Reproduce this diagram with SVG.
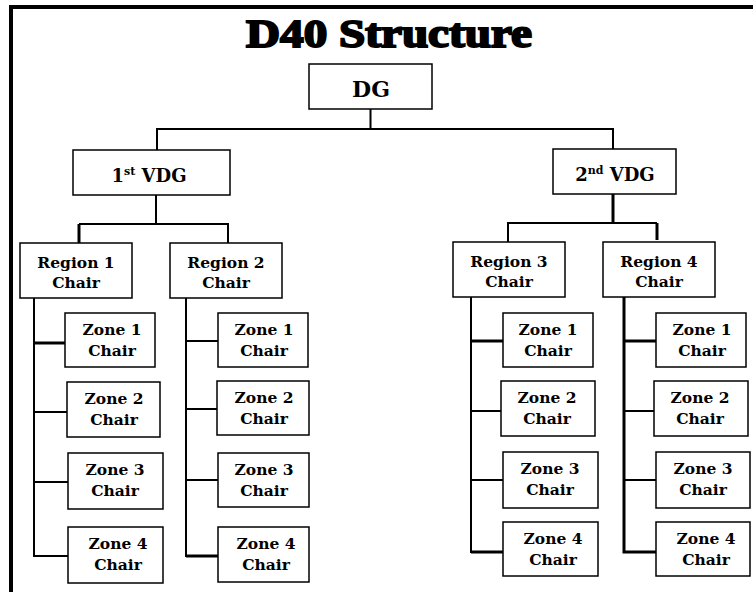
<svg xmlns="http://www.w3.org/2000/svg" width="753" height="592" viewBox="0 0 753 592">
<style>
.box{fill:#fff;stroke:#000;stroke-width:1.5}
.t{font-family:"DejaVu Serif","Liberation Serif",serif;font-weight:bold;fill:#000;text-anchor:middle}
.z{font-size:15.5px}
.c{fill:none;stroke:#000;stroke-width:2}
.k{fill:none;stroke:#000;stroke-width:3}
.title{font-family:"Liberation Serif","DejaVu Serif",serif;font-weight:bold;font-size:40px;fill:#000;stroke:#000;stroke-width:2;text-anchor:middle}
</style>
<rect width="753" height="592" fill="#fff"/>
<g id="frame">
<line x1="9" y1="7" x2="753" y2="7" stroke="#000" stroke-width="4"/>
<line x1="11" y1="5" x2="11" y2="592" stroke="#000" stroke-width="4"/>
</g>
<text class="title" x="389" y="47" textLength="286" lengthAdjust="spacingAndGlyphs">D40 Structure</text>
<g id="connectors">
<path class="c" d="M370.5 109V129M157 150V129H613V149"/>
<path class="c" d="M156 195V224M79 224H228V243"/>
<path class="k" d="M79 224V243"/>
<path class="k" d="M613 194V223"/>
<path class="c" d="M508 242V223H657"/>
<path class="k" d="M657 223V240"/>
<path class="c" d="M34 298V556H68M34 412H67M34 482H68"/>
<path class="k" d="M34 343H65"/>
<path class="c" d="M186 298V556H218M186 341H218M186 409H217M186 480H218"/>
<path class="k" d="M186 556H218"/>
<path class="c" d="M471 297V552H503M471 411H501M471 480H503"/>
<path class="k" d="M471 341H503M471 552H503"/>
<path class="k" d="M624 297V552H656M624 341H656"/>
<path class="c" d="M624 411H654M624 480H656"/>
</g>
<g id="dg"><rect class="box" x="309" y="64" width="123" height="45"/><text class="t" x="371" y="97" font-size="22">DG</text></g>
<g id="vdg1"><rect class="box" x="73" y="150" width="157" height="45"/><text class="t" x="149" y="182" font-size="18">1<tspan font-size="11" dy="-7">st</tspan><tspan dy="7"> VDG</tspan></text></g>
<g id="vdg2"><rect class="box" x="553" y="149" width="123" height="45"/><text class="t" x="615" y="181" font-size="18">2<tspan font-size="11" dy="-7">nd</tspan><tspan dy="7"> VDG</tspan></text></g>
<g id="region1"><rect class="box" x="20" y="243" width="112" height="55"/><text class="t z" x="76" y="268">Region 1</text><text class="t z" x="76" y="288">Chair</text></g>
<g id="region2"><rect class="box" x="170" y="243" width="112" height="55"/><text class="t z" x="226" y="268">Region 2</text><text class="t z" x="226" y="288">Chair</text></g>
<g id="region3"><rect class="box" x="453" y="242" width="112" height="55"/><text class="t z" x="509" y="267">Region 3</text><text class="t z" x="509" y="287">Chair</text></g>
<g id="region4"><rect class="box" x="603" y="242" width="112" height="55"/><text class="t z" x="659" y="267">Region 4</text><text class="t z" x="659" y="287">Chair</text></g>
<g id="r1z1"><rect class="box" x="65" y="313" width="90" height="54"/><text class="t z" x="112" y="335">Zone 1</text><text class="t z" x="112" y="356">Chair</text></g>
<g id="r1z2"><rect class="box" x="67" y="382" width="93" height="55"/><text class="t z" x="114" y="404">Zone 2</text><text class="t z" x="114" y="425">Chair</text></g>
<g id="r1z3"><rect class="box" x="68" y="453" width="95" height="56"/><text class="t z" x="115" y="475">Zone 3</text><text class="t z" x="115" y="496">Chair</text></g>
<g id="r1z4"><rect class="box" x="68" y="527" width="95" height="56"/><text class="t z" x="118" y="549">Zone 4</text><text class="t z" x="118" y="570">Chair</text></g>
<g id="r2z1"><rect class="box" x="218" y="313" width="90" height="54"/><text class="t z" x="264" y="335">Zone 1</text><text class="t z" x="264" y="356">Chair</text></g>
<g id="r2z2"><rect class="box" x="217" y="381" width="92" height="54"/><text class="t z" x="264" y="403">Zone 2</text><text class="t z" x="264" y="424">Chair</text></g>
<g id="r2z3"><rect class="box" x="218" y="453" width="91" height="54"/><text class="t z" x="264" y="475">Zone 3</text><text class="t z" x="264" y="496">Chair</text></g>
<g id="r2z4"><rect class="box" x="218" y="527" width="91" height="55"/><text class="t z" x="266" y="549">Zone 4</text><text class="t z" x="266" y="570">Chair</text></g>
<g id="r3z1"><rect class="box" x="503" y="313" width="90" height="54"/><text class="t z" x="548" y="335">Zone 1</text><text class="t z" x="548" y="356">Chair</text></g>
<g id="r3z2"><rect class="box" x="501" y="381" width="94" height="55"/><text class="t z" x="547" y="403">Zone 2</text><text class="t z" x="547" y="424">Chair</text></g>
<g id="r3z3"><rect class="box" x="503" y="452" width="95" height="56"/><text class="t z" x="550" y="474">Zone 3</text><text class="t z" x="550" y="495">Chair</text></g>
<g id="r3z4"><rect class="box" x="503" y="522" width="95" height="54"/><text class="t z" x="553" y="544">Zone 4</text><text class="t z" x="553" y="565">Chair</text></g>
<g id="r4z1"><rect class="box" x="656" y="313" width="90" height="54"/><text class="t z" x="702" y="335">Zone 1</text><text class="t z" x="702" y="356">Chair</text></g>
<g id="r4z2"><rect class="box" x="654" y="381" width="94" height="55"/><text class="t z" x="700" y="403">Zone 2</text><text class="t z" x="700" y="424">Chair</text></g>
<g id="r4z3"><rect class="box" x="656" y="452" width="94" height="56"/><text class="t z" x="703" y="474">Zone 3</text><text class="t z" x="703" y="495">Chair</text></g>
<g id="r4z4"><rect class="box" x="656" y="522" width="94" height="54"/><text class="t z" x="706" y="544">Zone 4</text><text class="t z" x="706" y="565">Chair</text></g>
</svg>
